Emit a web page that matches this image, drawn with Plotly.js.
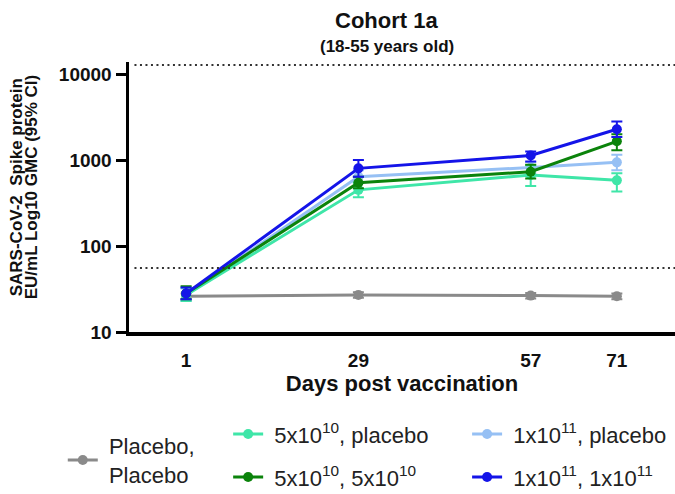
<!DOCTYPE html>
<html>
<head>
<meta charset="utf-8">
<script src="https://cdn.plot.ly/plotly-3.0.1.min.js"></script>
<style>html,body{margin:0;padding:0;background:#fff;}#chart{width:675px;height:494px;}</style>
</head>
<body>
<div id="chart"></div>
<script>
// ---- data ----
const days = [1, 29, 57, 71];
const xTickLabels = ["1", "29", "57", "71"];
const yTickVals = [10, 100, 1000, 10000];
const yTickText = ["10", "100", "1000", "10000"];

const NB = "\u00A0";
const seriesNames = [
  NB + "Placebo,<br>" + NB + "Placebo",
  NB + "5x10<sup>10</sup>, placebo",
  NB + "5x10<sup>10</sup>, 5x10<sup>10</sup>",
  NB + "1x10<sup>11</sup>, placebo",
  NB + "1x10<sup>11</sup>, 1x10<sup>11</sup>"
];

const placeboGMC   = [26, 27, 26.5, 26];
const placeboUpper = [28, 29, 28.5, 28];
const placeboLower = [24, 25, 24.5, 24];

const lowPlaceboGMC   = [27, 450, 670, 580];
const lowPlaceboUpper = [33, 545, 870, 700];
const lowPlaceboLower = [23, 370, 500, 430];

const lowLowGMC   = [28, 545, 730, 1650];
const lowLowUpper = [34, 640, 880, 2000];
const lowLowLower = [24, 470, 610, 1300];

const highPlaceboGMC   = [27, 640, 820, 940];
const highPlaceboUpper = [32, 760, 950, 1150];
const highPlaceboLower = [23, 540, 700, 760];

const highHighGMC   = [28, 800, 1130, 2280];
const highHighUpper = [33, 1000, 1260, 2800];
const highHighLower = [24, 640, 960, 1850];

const upperLimit = 12700;
const lowerLimit = 55.5;

// ---- styling ----
const FONT = "Liberation Sans, Arial, sans-serif";
const colors = ["#8a8a8a", "#3fe6a8", "#0b830b", "#96c0f4", "#1414e8"];

function mk(name, y, up, lo, color, legendId) {
  return {
    type: "scatter", mode: "lines+markers", x: days, y: y, name: name,
    legend: legendId,
    line: {color: color, width: 3},
    marker: {color: color, size: 10, symbol: "circle"},
    error_y: {
      type: "data", symmetric: false,
      array: up.map((u, i) => u - y[i]),
      arrayminus: lo.map((l, i) => y[i] - l),
      color: color, thickness: 2, width: 5.5
    }
  };
}

const traces = [
  mk(seriesNames[0], placeboGMC, placeboUpper, placeboLower, colors[0], "legend"),
  mk(seriesNames[3], highPlaceboGMC, highPlaceboUpper, highPlaceboLower, colors[3], "legend4"),
  mk(seriesNames[1], lowPlaceboGMC, lowPlaceboUpper, lowPlaceboLower, colors[1], "legend2"),
  mk(seriesNames[2], lowLowGMC, lowLowUpper, lowLowLower, colors[2], "legend3"),
  mk(seriesNames[4], highHighGMC, highHighUpper, highHighLower, colors[4], "legend5")
];

function leg(x, y) {
  return {
    xref: "container", yref: "container", x: x, y: y,
    xanchor: "left", yanchor: "middle",
    bgcolor: "rgba(0,0,0,0)", borderwidth: 0,
    font: {family: FONT, size: 22, color: "#222"}
  };
}

const layout = {
  width: 675, height: 494,
  margin: {l: 129, r: 0, t: 62, b: 162, pad: 0, autoexpand: false},
  paper_bgcolor: "#fff", plot_bgcolor: "#fff",
  showlegend: true,
  font: {family: FONT, color: "#111"},
  xaxis: {
    range: [-8.28, 80.45],
    tickvals: days, ticktext: xTickLabels, tickangle: 0,
    ticks: "", showgrid: false, zeroline: false,
    showline: true, linecolor: "#000", linewidth: 4,
    tickfont: {family: FONT, size: 19, weight: "bold", color: "#111"},
    ticklabelstandoff: 8,
    title: {text: "Days post vaccination", font: {family: FONT, size: 22, weight: "bold", color: "#111"}, standoff: 5}
  },
  yaxis: {
    type: "log", range: [1, 4.14],
    tickvals: yTickVals, ticktext: yTickText,
    ticks: "outside", ticklen: 10, tickwidth: 3, tickcolor: "#000",
    showgrid: false, zeroline: false,
    showline: true, linecolor: "#000", linewidth: 3.5,
    tickfont: {family: FONT, size: 19, weight: "bold", color: "#111"},
    ticklabelstandoff: 0
  },
  shapes: [
    {type: "line", xref: "paper", x0: 0.01, x1: 1, yref: "y", y0: upperLimit, y1: upperLimit,
     line: {color: "#333", width: 2, dash: "2px,3.5px"}},
    {type: "line", xref: "paper", x0: 0.01, x1: 1, yref: "y", y0: lowerLimit, y1: lowerLimit,
     line: {color: "#333", width: 2, dash: "2px,3.5px"}}
  ],
  annotations: [
    {text: "Cohort 1a", xref: "paper", yref: "paper", x: 0.472, y: 1, yshift: 42,
     showarrow: false, xanchor: "center", yanchor: "middle",
     font: {family: FONT, size: 22, weight: "bold", color: "#111"}},
    {text: "(18-55 years old)", xref: "paper", yref: "paper", x: 0.472, y: 1, yshift: 16,
     showarrow: false, xanchor: "center", yanchor: "middle",
     font: {family: FONT, size: 17, weight: "bold", color: "#111"}},
    {text: "SARS-CoV-2  Spike protein", xref: "paper", yref: "paper", x: 0, xshift: -113, y: 0.536,
     textangle: -90, showarrow: false, xanchor: "center", yanchor: "middle",
     font: {family: FONT, size: 17, weight: "bold", color: "#111"}},
    {text: "EU/mL Log10 GMC (95% CI)", xref: "paper", yref: "paper", x: 0, xshift: -98, y: 0.536,
     textangle: -90, showarrow: false, xanchor: "center", yanchor: "middle",
     font: {family: FONT, size: 17, weight: "bold", color: "#111"}}
  ],
  legend: leg(0.093, 0.068),
  legend2: leg(0.338, 0.121),
  legend3: leg(0.338, 0.034),
  legend4: leg(0.692, 0.121),
  legend5: leg(0.692, 0.034)
};

Plotly.newPlot("chart", traces, layout, {displayModeBar: false, staticPlot: true});
</script>
</body>
</html>
